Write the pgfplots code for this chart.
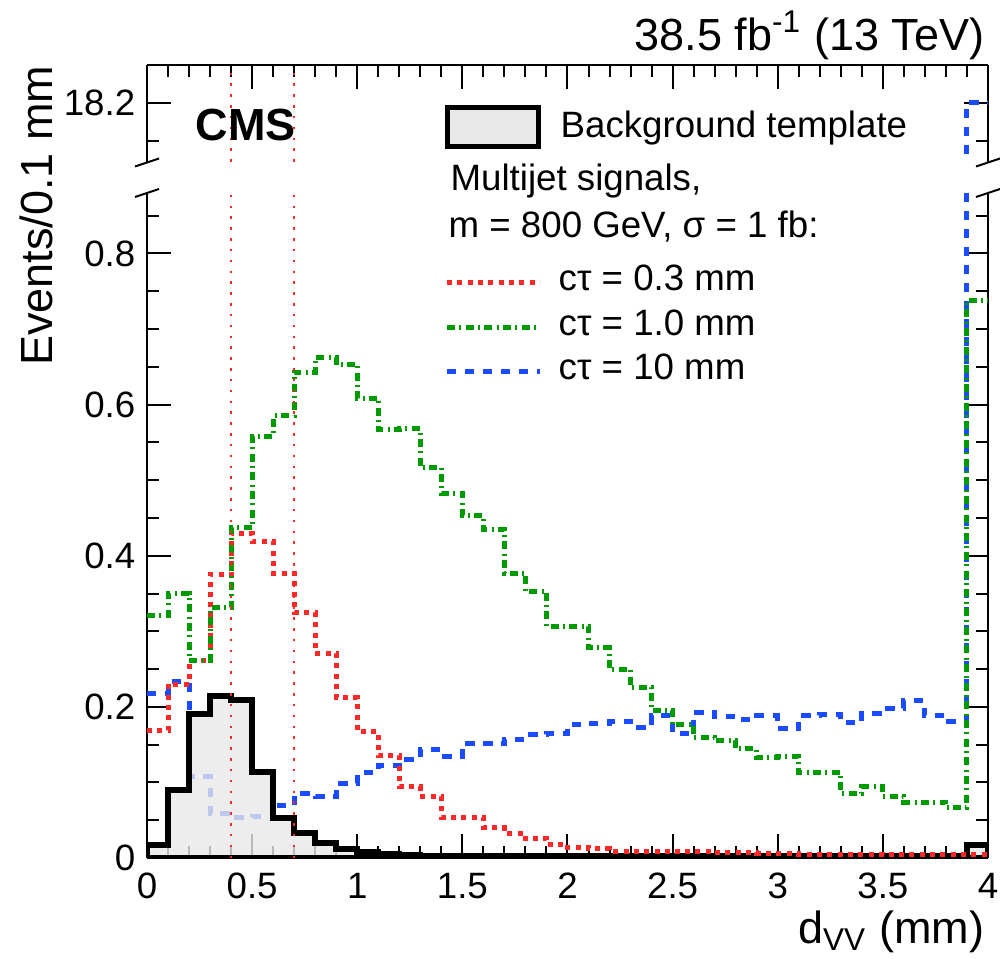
\documentclass[border=0pt]{standalone}
\usepackage{fontspec}
\setmainfont{Liberation Sans}
\usepackage{pgfplots}
\usepackage{pgfplotstable}
\pgfplotsset{compat=1.18}
\definecolor{cred}{RGB}{255,40,40}
\definecolor{cgreen}{RGB}{0,155,0}
\definecolor{cblue}{RGB}{25,75,255}
\definecolor{bgfill}{RGB}{232,232,232}

\pgfplotstableread{
x b r g bl
0.0 0.017 0.169 0.321 0.218
0.1 0.090 0.230 0.350 0.233
0.2 0.190 0.262 0.262 0.108
0.3 0.214 0.375 0.331 0.059
0.4 0.209 0.430 0.437 0.054
0.5 0.114 0.419 0.558 0.055
0.6 0.053 0.377 0.585 0.069
0.7 0.033 0.325 0.643 0.086
0.8 0.020 0.271 0.662 0.082
0.9 0.012 0.212 0.653 0.099
1.0 0.008 0.167 0.608 0.113
1.1 0.005 0.135 0.567 0.122
1.2 0.004 0.094 0.568 0.131
1.3 0.003 0.082 0.517 0.143
1.4 0.003 0.054 0.483 0.134
1.5 0.003 0.054 0.453 0.151
1.6 0.002 0.040 0.435 0.151
1.7 0.002 0.033 0.377 0.157
1.8 0.002 0.026 0.353 0.163
1.9 0.002 0.018 0.307 0.165
2.0 0.002 0.014 0.307 0.177
2.1 0.002 0.012 0.278 0.178
2.2 0.002 0.009 0.249 0.180
2.3 0.002 0.009 0.226 0.173
2.4 0.002 0.009 0.195 0.188
2.5 0.002 0.008 0.177 0.165
2.6 0.002 0.008 0.160 0.193
2.7 0.002 0.007 0.156 0.187
2.8 0.002 0.007 0.145 0.183
2.9 0.002 0.006 0.133 0.188
3.0 0.002 0.006 0.134 0.171
3.1 0.002 0.005 0.113 0.188
3.2 0.002 0.005 0.113 0.190
3.3 0.002 0.005 0.086 0.179
3.4 0.002 0.005 0.094 0.191
3.5 0.002 0.004 0.082 0.198
3.6 0.002 0.004 0.074 0.208
3.7 0.002 0.004 0.074 0.188
3.8 0.002 0.004 0.067 0.180
3.9 0.017 0.004 0.738 18.2
4.0 0.017 0.004 0.738 18.2
}\hist

\tikzset{
  redsig/.style={cred, line width=1.5pt, dash pattern=on 1.5pt off 1.6pt},
  greensig/.style={cgreen, line width=1.5pt, dash pattern=on 2.4pt off 1.3pt on 0.6pt off 1.3pt},
  bluesig/.style={cblue, line width=1.5pt, dash pattern=on 2.8pt off 2.6pt},
  cutline/.style={cred, line width=0.75pt, dash pattern=on 0.75pt off 2.5pt},
}
\pgfplotsset{
  cmsaxis/.style={
    scale only axis, width=252.3pt,
    xmin=0, xmax=4,
    axis line style={-, line width=0.6pt, black},
    tick align=inside,
    major tick length=7.2pt, minor tick length=3.6pt,
    every tick/.style={black, line width=0.6pt},
    xtick={0,0.5,1,1.5,2,2.5,3,3.5,4},
    minor xtick={0.1,0.2,0.3,0.4,0.6,0.7,0.8,0.9,1.1,1.2,1.3,1.4,1.6,1.7,1.8,1.9,2.1,2.2,2.3,2.4,2.6,2.7,2.8,2.9,3.1,3.2,3.3,3.4,3.6,3.7,3.8,3.9},
    tick label style={font=\fontsize{11}{13}\selectfont},
    /pgf/number format/assume math mode=true,
    scaled y ticks=false, scaled x ticks=false,
    ytick pos=both, yticklabel pos=left,
  },
}

\begin{document}
\begin{tikzpicture}
\useasboundingbox (0,0) rectangle (300pt,287.4pt);

% lower panel
\begin{axis}[cmsaxis,
  at={(44.1pt,30pt)}, anchor=south west,
  height=199.5pt,
  ymin=0, ymax=0.88,
  axis x line*=bottom, axis y line*=box,
  xtick pos=left, xticklabel pos=left,
  ytick={0,0.2,0.4,0.6,0.8},
  minor ytick={0.05,0.1,0.15,0.25,0.3,0.35,0.45,0.5,0.55,0.65,0.7,0.75,0.85},
  xticklabel style={yshift=-1pt},
]
\addplot[const plot, bluesig] table[x=x,y=bl] {\hist};
\addplot[const plot, draw=black, line width=1.8pt, fill=bgfill, fill opacity=0.8] table[x=x,y=b] {\hist} \closedcycle;
\addplot[const plot, redsig] table[x=x,y=r] {\hist};
\addplot[const plot, greensig] table[x=x,y=g] {\hist};
\addplot[cutline] coordinates {(0.4,0) (0.4,0.88)};
\addplot[cutline] coordinates {(0.7,0) (0.7,0.88)};
\end{axis}

% upper panel
\begin{axis}[cmsaxis,
  at={(44.1pt,238.8pt)}, anchor=south west,
  height=29.1pt,
  ymin=18.122, ymax=18.25,
  axis x line*=top, axis y line*=box,
  xtick pos=right, xticklabels={},
  ytick={18.2}, minor ytick={18.15,18.25},
  yticklabel style={/pgf/number format/fixed, /pgf/number format/precision=1},
]
\addplot[const plot, bluesig] table[x=x,y=bl] {\hist};
\addplot[cutline] coordinates {(0.4,18.122) (0.4,18.25)};
\addplot[cutline] coordinates {(0.7,18.122) (0.7,18.25)};
\end{axis}

\begin{scope}[x=0.3pt, y=-0.3pt, shift={(0pt,287.4pt)}]
  % break marks
  \draw[line width=0.6pt] (135,166.5) -- (159,158.5);
  \draw[line width=0.6pt] (135,197) -- (159,189);
  \draw[line width=0.6pt] (976,166.5) -- (1000,158.5);
  \draw[line width=0.6pt] (976,197) -- (1000,189);
  % texts
  \node[anchor=base east, inner sep=0pt, font=\fontsize{13.5}{16}\selectfont] at (985,50) {38.5 fb\textsuperscript{-1} (13 TeV)};
  \node[anchor=base west, inner sep=0pt, font=\fontsize{13.5}{16}\selectfont\bfseries] at (195,140) {CMS};
  \node[rotate=90, anchor=base east, inner sep=0pt, font=\fontsize{13.5}{16}\selectfont] at (52,65) {Events/0.1 mm};
  \node[anchor=base east, inner sep=0pt, font=\fontsize{13.5}{16}\selectfont] at (985,943) {d\textsubscript{VV} (mm)};
  % legend
  \draw[line width=1.5pt, fill=bgfill] (447,107) rectangle (538,146);
  \begin{scope}[every node/.style={anchor=base west, inner sep=0pt, font=\fontsize{11}{13}\selectfont}]
  \node at (560,137) {Background template};
  \node at (450,190) {Multijet signals,};
  \node at (448,237) {m = 800 GeV, σ = 1 fb:};
  \draw[redsig] (447,282) -- (540,282);
  \node at (558,290) {cτ = 0.3 mm};
  \draw[greensig] (447,327) -- (540,327);
  \node at (558,335) {cτ = 1.0 mm};
  \draw[bluesig] (447,371) -- (540,371);
  \node at (558,379) {cτ = 10 mm};
  \end{scope}
\end{scope}
\end{tikzpicture}
\end{document}
